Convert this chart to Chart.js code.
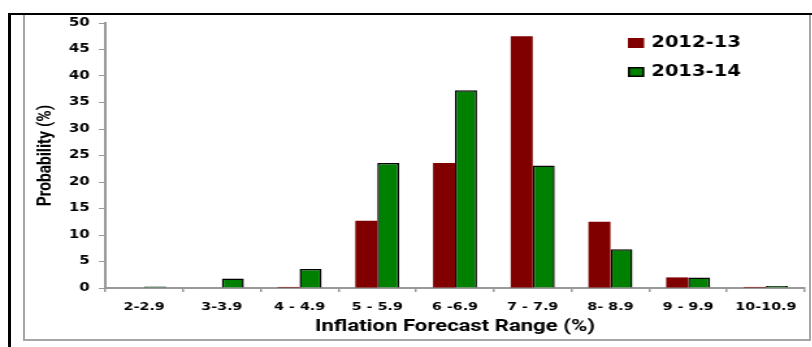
<!DOCTYPE html>
<html>
<head>
<meta charset="utf-8">
<script src="https://cdn.jsdelivr.net/npm/chart.js@4.4.0/dist/chart.umd.min.js"></script>
<style>
  html, body { margin: 0; padding: 0; background: #fff; }
  body { width: 812px; height: 347px; position: relative; overflow: hidden; }
  #outer { position: absolute; left: 8px; top: 13px; width: 820px; height: 360px;
           border-top: 2px solid #000; border-left: 3px solid #000; }
  #inner { position: absolute; left: 23px; top: 15px; width: 784px; height: 324px;
           border-left: 2px solid #a6a6a6; border-right: 2px solid #a6a6a6; border-bottom: 2px solid #a6a6a6; }
  #wrap { position: absolute; left: 0; top: 0; width: 625px; height: 347px;
          transform: scaleX(1.3); transform-origin: 0 0; }
</style>
</head>
<body>
<div id="outer"></div>
<div id="inner"></div>
<div id="wrap"><canvas id="myChart"></canvas></div>
<script>
const categories = ['2-2.9', '3-3.9', '4 - 4.9', '5 - 5.9', '6 -6.9', '7 - 7.9', '8- 8.9', '9 - 9.9', '10-10.9'];
const series2012 = [0, 0, 0.2, 12.7, 23.6, 47.5, 12.5, 2.0, 0.2];
const series2013 = [0.3, 1.8, 3.6, 23.6, 37.3, 23.1, 7.3, 2.0, 0.4];
const seriesNames = ['2012-13', '2013-14'];
const yTicks = { min: 0, max: 50, step: 5 };

// legend drawn inside the plot, top right
const insideLegend = {
    id: 'insideLegend',
    afterDraw(chart) {
        const ctx = chart.ctx;
        ctx.save();
        ctx.font = 'bold 15px "DejaVu Sans"';
        ctx.textBaseline = 'middle';
        chart.data.datasets.forEach((ds, i) => {
            let y = 43 + i * 29;
            ctx.fillStyle = ds.backgroundColor;
            ctx.fillRect(483, y - 5, 12.5, 10);
            if (ds.borderWidth) {
                ctx.strokeStyle = ds.borderColor;
                ctx.lineWidth = 1.5;
                ctx.strokeRect(483.75, y - 4.25, 11, 8.5);
            }
            ctx.fillStyle = '#000';
            ctx.fillText(ds.label, 501, y + 0.5);
        });
        ctx.restore();
    }
};

const myChart = new Chart(document.getElementById('myChart'), {
    type: 'bar',
    data: {
        labels: categories,
        datasets: [{
            label: seriesNames[0],
            data: series2012,
            backgroundColor: '#800000',
            borderWidth: 0
        }, {
            label: seriesNames[1],
            data: series2013,
            backgroundColor: '#008000',
            borderColor: '#000',
            borderWidth: 1.5
        }]
    },
    options: {
        responsive: true,
        maintainAspectRatio: false,
        animation: false,
        categoryPercentage: 0.566,
        barPercentage: 1.0,
        layout: { padding: { left: 0, right: 6, top: 23, bottom: 10 } },
        plugins: { legend: { display: false }, tooltip: { enabled: false } },
        scales: {
            x: {
                grid: { display: true, drawOnChartArea: false, color: '#999', tickLength: 4, lineWidth: 1.5 },
                border: { color: '#999', width: 2 },
                ticks: { color: '#000', font: { family: 'DejaVu Sans', size: 11, weight: 'bold' }, padding: 9, maxRotation: 0, autoSkip: false },
                title: { display: true, text: 'Inflation Forecast Range (%)', color: '#000',
                         font: { family: 'Roboto', size: 17, weight: 'bold' }, padding: { top: 2, bottom: 0 } },
                afterFit(scale) { scale.height = 49; }
            },
            y: {
                min: yTicks.min,
                max: yTicks.max,
                grid: { display: true, drawOnChartArea: false, color: '#999', tickLength: 5 },
                border: { color: '#999', width: 2 },
                ticks: { stepSize: yTicks.step, color: '#000', font: { family: 'DejaVu Sans', size: 11.5, weight: 'bold' }, padding: 7 },
                title: { display: true, text: 'Probability (%)', color: '#000',
                         font: { family: 'Roboto', size: 15.5, weight: 'bold' }, padding: { top: 26, bottom: 0 } },
                afterFit(scale) { scale.width = 81; }
            }
        }
    },
    plugins: [insideLegend]
});
</script>
</body>
</html>
